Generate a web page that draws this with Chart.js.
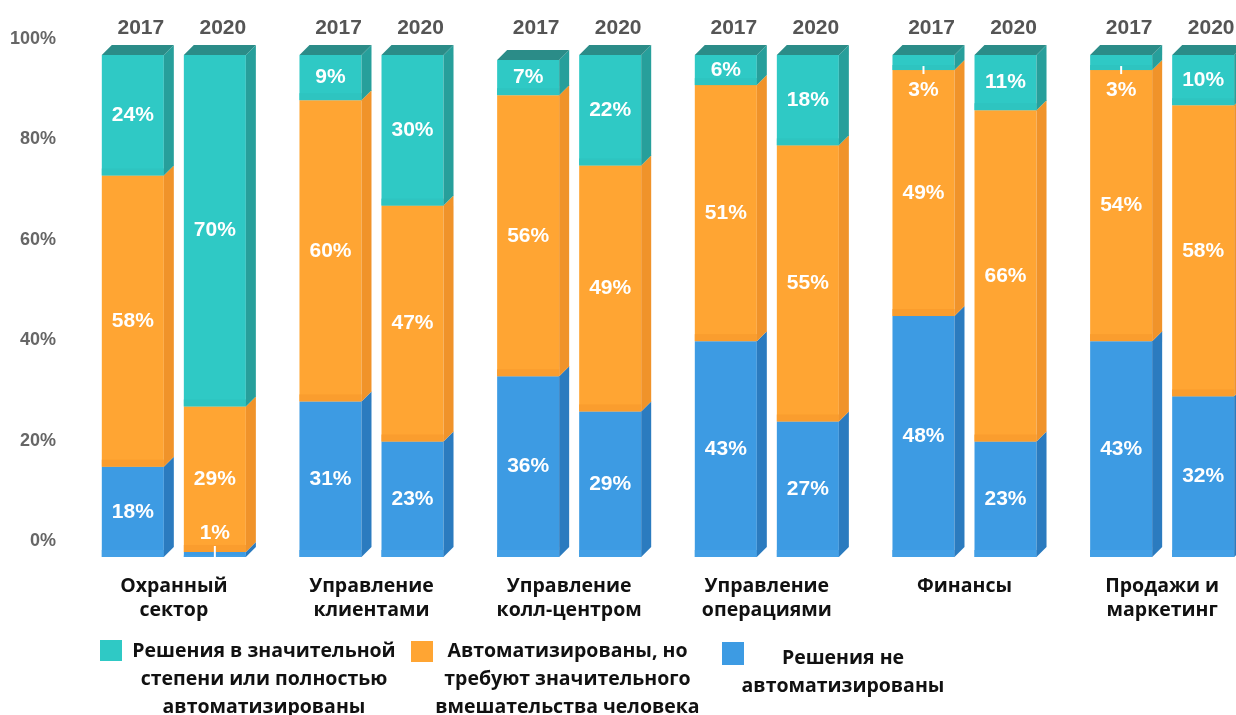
<!DOCTYPE html>
<html lang="ru">
<head>
    <meta charset="UTF-8">
    <title>Автоматизация по направлениям</title>
    <script src="https://cdn.jsdelivr.net/npm/chart.js"></script>
    <style>
        html, body {
            margin: 0;
            padding: 0;
            background: #fff;
            overflow: hidden;
        }
        .wrap {
            position: relative;
            width: 1262px;
            height: 715px;
        }
        canvas {
            position: absolute;
            left: 0;
            top: 0;
        }
        .legend-box {
            position: absolute;
            width: 22px;
            height: 21px;
        }
        .legend-text {
            position: absolute;
            font-family: "Open Sans", sans-serif;
            font-weight: bold;
            font-size: 19.5px;
            line-height: 28px;
            color: #111;
            text-align: center;
            white-space: nowrap;
        }
    </style>
</head>
<body>
<div class="wrap">
    <canvas id="chart" width="1262" height="715"></canvas>

    <div class="legend-box" style="left:100px; top:640px; background:#2fc9c5;"></div>
    <div class="legend-text" style="left:124px; top:636px; width:280px;">Решения в значительной<br>степени или полностью<br>автоматизированы</div>

    <div class="legend-box" style="left:411px; top:641px; background:#ffa533;"></div>
    <div class="legend-text" style="left:430px; top:636px; width:275px;">Автоматизированы, но<br>требуют значительного<br>вмешательства человека</div>

    <div class="legend-box" style="left:722px; top:642px; width:22px; height:23px; background:#3d9be3;"></div>
    <div class="legend-text" style="left:735px; top:643px; width:216px;">Решения не<br>автоматизированы</div>
</div>

<script>
    // data
    const groups = [['Охранный', 'сектор'], ['Управление', 'клиентами'], ['Управление', 'колл-центром'],
        ['Управление', 'операциями'], 'Финансы', ['Продажи и', 'маркетинг']];
    const years = ['2017', '2020'];
    const yTicks = [0, 20, 40, 60, 80, 100];

    const notAutomated2017 = [18, 31, 36, 43, 48, 43];
    const notAutomated2020 = [1, 23, 29, 27, 23, 32];
    const partly2017 = [58, 60, 56, 51, 49, 54];
    const partly2020 = [29, 47, 49, 55, 66, 58];
    const full2017 = [24, 9, 7, 6, 3, 3];
    const full2020 = [70, 30, 22, 18, 11, 10];

    const depth = 10;
    const blue = { front: '#3d9be3', side: '#2b7bbf', top: '#2a70ab', band: '#44a0e6' };
    const orange = { front: '#ffa533', side: '#f0932a', top: '#d9851f', band: '#fa9d2e' };
    const teal = { front: '#2fc9c5', side: '#279f9b', top: '#2b8c88', band: '#2ec4c0' };

    function makeSet(label, data, stack, c) {
        return {
            label: label,
            data: data,
            stack: stack,
            backgroundColor: c.front,
            sideColor: c.side,
            topColor: c.top,
            bandColor: c.band,
            borderWidth: 0,
            categoryPercentage: 0.83,
            barPercentage: 0.756
        };
    }

    const datasets = [
        makeSet('Решения не автоматизированы', notAutomated2017, years[0], blue),
        makeSet('Решения не автоматизированы', notAutomated2020, years[1], blue),
        makeSet('Автоматизированы, но требуют значительного вмешательства человека', partly2017, years[0], orange),
        makeSet('Автоматизированы, но требуют значительного вмешательства человека', partly2020, years[1], orange),
        makeSet('Решения в значительной степени или полностью автоматизированы', full2017, years[0], teal),
        makeSet('Решения в значительной степени или полностью автоматизированы', full2020, years[1], teal)
    ];

    // fake 3d faces, year headers and value labels
    const barDecor = {
        id: 'barDecor',
        afterDatasetsDraw(chart) {
            const ctx = chart.ctx;
            const n = chart.data.datasets.length;
            ctx.save();
            chart.data.datasets.forEach((ds, i) => {
                const meta = chart.getDatasetMeta(i);
                meta.data.forEach((bar) => {
                    const p = bar.getProps(['x', 'y', 'base', 'width'], true);
                    const l = p.x - p.width / 2, r = p.x + p.width / 2;
                    // band at the bottom of the front face
                    const bh = Math.min(7, (p.base - p.y) / 3);
                    ctx.fillStyle = ds.bandColor;
                    ctx.fillRect(l, p.base - bh, p.width, bh);
                    // side face
                    ctx.fillStyle = ds.sideColor;
                    ctx.beginPath();
                    ctx.moveTo(r, p.base);
                    ctx.lineTo(r + depth, p.base - depth);
                    ctx.lineTo(r + depth, p.y - depth);
                    ctx.lineTo(r, p.y);
                    ctx.closePath();
                    ctx.fill();
                    // top face on the last segment
                    if (i >= n - 2) {
                        ctx.fillStyle = ds.topColor;
                        ctx.beginPath();
                        ctx.moveTo(l, p.y);
                        ctx.lineTo(l + depth, p.y - depth);
                        ctx.lineTo(r + depth, p.y - depth);
                        ctx.lineTo(r, p.y);
                        ctx.closePath();
                        ctx.fill();
                    }
                });
            });

            // year headers
            ctx.fillStyle = '#555';
            ctx.font = 'bold 21px "Liberation Sans", Arial, sans-serif';
            ctx.textAlign = 'center';
            ctx.textBaseline = 'middle';
            [0, 1].forEach((i) => {
                chart.getDatasetMeta(i).data.forEach((bar) => {
                    ctx.fillText(years[i], bar.x + 8, 28);
                });
            });

            // values
            ctx.fillStyle = '#fff';
            ctx.strokeStyle = '#fff';
            ctx.lineWidth = 2;
            chart.data.datasets.forEach((ds, i) => {
                const meta = chart.getDatasetMeta(i);
                meta.data.forEach((bar, j) => {
                    const v = ds.data[j];
                    const p = bar.getProps(['x', 'y', 'base'], true);
                    let ty = (p.y + p.base) / 2;
                    if (v < 5) {
                        if (i < 2) {
                            ctx.beginPath();
                            ctx.moveTo(p.x, p.base);
                            ctx.lineTo(p.x, p.y - 6);
                            ctx.stroke();
                            ty = p.y - 19;
                        } else {
                            ctx.beginPath();
                            ctx.moveTo(p.x, p.base - 4);
                            ctx.lineTo(p.x, p.base + 4);
                            ctx.stroke();
                            ty = p.base + 20;
                        }
                    }
                    ctx.fillText(v + '%', p.x, ty);
                });
            });
            ctx.restore();
        }
    };

    const ctx = document.getElementById('chart').getContext('2d');
    new Chart(ctx, {
        type: 'bar',
        data: {
            labels: groups,
            datasets: datasets
        },
        options: {
            responsive: false,
            animation: false,
            events: [],
            layout: {
                padding: { top: 55, right: 1, left: 0, bottom: 0 }
            },
            plugins: {
                legend: { display: false },
                tooltip: { enabled: false }
            },
            scales: {
                x: {
                    stacked: true,
                    grid: { display: false },
                    border: { display: false },
                    ticks: {
                        color: '#111',
                        padding: 10,
                        maxRotation: 0,
                        autoSkip: false,
                        font: { family: '"Open Sans", sans-serif', weight: 'bold', size: 19.5, lineHeight: 1.2 }
                    },
                    afterFit(scale) { scale.height = 158; }
                },
                y: {
                    stacked: true,
                    min: 0,
                    max: 100,
                    grid: { display: false },
                    border: { display: false },
                    afterBuildTicks(scale) { scale.ticks = yTicks.map(v => ({ value: v })); },
                    ticks: {
                        color: '#666',
                        padding: 11,
                        labelOffset: -16,
                        font: { family: '"Liberation Sans", Arial, sans-serif', weight: 'bold', size: 18 },
                        callback: v => v + '%'
                    },
                    afterFit(scale) { scale.width = 75; }
                }
            }
        },
        plugins: [barDecor]
    });
</script>
</body>
</html>
